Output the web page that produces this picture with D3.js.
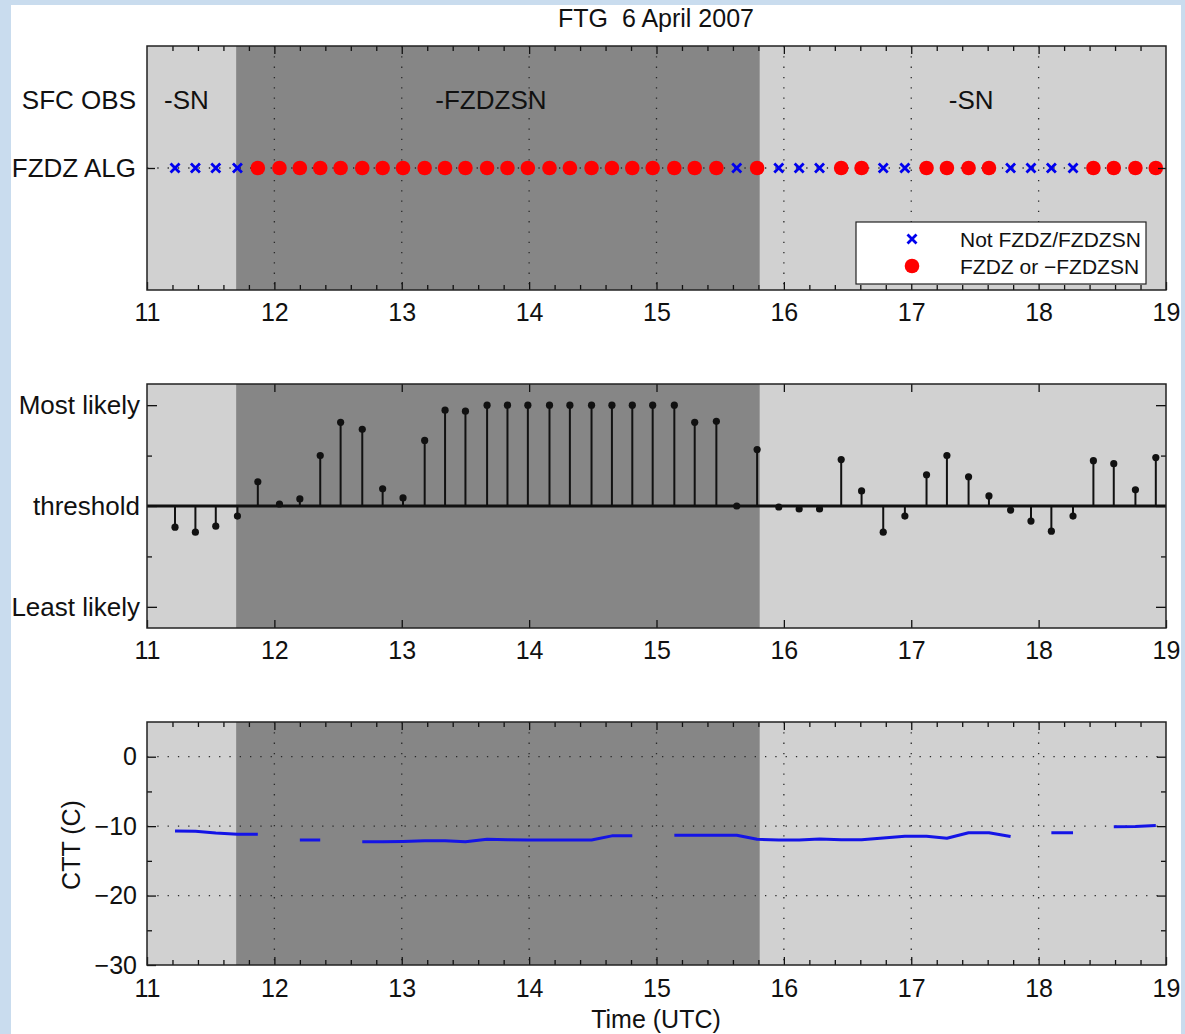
<!DOCTYPE html>
<html>
<head>
<meta charset="utf-8">
<script src="https://cdn.jsdelivr.net/npm/d3@7/dist/d3.min.js"></script>
<style>
  body { margin: 0; background: #c9dcee; }
  svg { display: block; }
  text { font-family: 'Liberation Sans', Arial, Helvetica, sans-serif; fill: #111; }
</style>
</head>
<body>
<svg id="chart" width="1185" height="1034"></svg>
<script>
// sample times (UTC hours)
const times = [11.22, 11.38, 11.54, 11.71, 11.87, 12.04, 12.20, 12.36, 12.52, 12.69, 12.85, 13.01,
  13.18, 13.34, 13.50, 13.67, 13.83, 13.99, 14.16, 14.32, 14.49, 14.65, 14.81, 14.97,
  15.14, 15.30, 15.47, 15.63, 15.79, 15.96, 16.12, 16.28, 16.45, 16.61, 16.78, 16.95,
  17.12, 17.28, 17.45, 17.61, 17.78, 17.94, 18.10, 18.27, 18.43, 18.59, 18.76, 18.92];

// algorithm result: 1 = FZDZ or -FZDZSN, 0 = Not FZDZ/FZDZSN
const algFlags = [0, 0, 0, 0, 1, 1, 1, 1, 1, 1, 1, 1, 1, 1, 1, 1, 1, 1, 1, 1, 1, 1, 1, 1,
  1, 1, 1, 0, 1, 0, 0, 0, 1, 1, 0, 0, 1, 1, 1, 1, 0, 0, 0, 0, 1, 1, 1, 1];

// likelihood relative to threshold (-1 least likely .. 1 most likely)
const likelihood = [-0.21, -0.26, -0.2, -0.1, 0.24, 0.02, 0.07, 0.5, 0.83, 0.76, 0.17, 0.08,
  0.65, 0.95, 0.94, 1, 1, 1, 1, 1, 1, 1, 1, 1,
  1, 0.83, 0.84, 0, 0.56, -0.01, -0.03, -0.03, 0.46, 0.15, -0.26, -0.1,
  0.31, 0.5, 0.29, 0.1, -0.04, -0.15, -0.25, -0.1, 0.45, 0.42, 0.16, 0.48];

// cloud top temperature (C), null = no data
const ctt = [-10.7, -10.75, -11.0, -11.15, -11.15, null, -12.0, -12.0, null, -12.25, -12.25, -12.2,
  -12.1, -12.1, -12.25, -11.9, -11.95, -12.0, -12.0, -12.0, -12.0, -11.4, -11.4, null,
  -11.3, -11.3, -11.3, -11.3, -11.9, -12.0, -12.0, -11.85, -11.95, -11.95, -11.7, -11.45,
  -11.45, -11.75, -10.95, -10.95, -11.5, null, -10.95, -10.95, null, -10.1, -10.05, -9.9];

// surface observation periods
const obsStart = [11, 11.70, 15.81];
const obsEnd = [11.70, 15.81, 19];
const obsLabels = ['-SN', '-FZDZSN', '-SN'];
const obsLabelX = [11.31, 13.70, 17.47];

const hourTicks = [11, 12, 13, 14, 15, 16, 17, 18, 19];
const cttTicks = [0, -10, -20, -30];
const legendLabels = ['Not FZDZ/FZDZSN', 'FZDZ or \u2212FZDZSN'];

const svg = d3.select('#chart');
svg.append('rect').attr('x', 11).attr('y', 5).attr('width', 1170).attr('height', 1029).attr('fill', '#fff');

const x = d3.scaleLinear().domain([11, 19]).range([147, 1166]);
const L = 147, R = 1166;
const light = '#d1d1d1', dark = '#868686';
const minorHours = d3.range(11.2, 19, 0.2).map(v => +v.toFixed(1)).filter(v => Math.abs(v - Math.round(v)) > 0.01);

function background(top, bottom) {
  const g = svg.append('g');
  g.append('rect').attr('x', L).attr('y', top).attr('width', R - L).attr('height', bottom - top).attr('fill', light);
  g.selectAll('rect.shade')
    .data(obsStart.map((s, i) => ({ s, e: obsEnd[i] })).filter((d, i) => i === 1))
    .enter().append('rect')
    .attr('class', 'shade')
    .attr('x', d => x(d.s)).attr('y', top)
    .attr('width', d => x(d.e) - x(d.s)).attr('height', bottom - top)
    .attr('fill', dark);
}

function tickAxis(gen, transform, values, size, fmt, pad) {
  const a = svg.append('g').attr('transform', transform)
    .call(gen.tickValues(values).tickSizeInner(-size).tickSizeOuter(0).tickPadding(pad || 0).tickFormat(fmt || (() => '')));
  a.select('.domain').remove();
  a.selectAll('line').attr('stroke', '#111').attr('stroke-width', 1.3);
  a.attr('font-size', 25).attr('font-family', "'Liberation Sans', Arial, sans-serif");
  a.selectAll('text').attr('fill', '#111');
  return a;
}

function xTicks(top, bottom, minor, pad) {
  const inner = hourTicks.filter(h => h > 11 && h < 19);
  tickAxis(d3.axisBottom(x), `translate(0,${bottom})`, hourTicks, 8, d => d, pad);
  tickAxis(d3.axisTop(x), `translate(0,${top})`, inner, 8);
  if (minor) {
    tickAxis(d3.axisBottom(x), `translate(0,${bottom})`, minorHours, 5);
    tickAxis(d3.axisTop(x), `translate(0,${top})`, minorHours, 5);
  }
}

function dotted(x1, y1, x2, y2) {
  svg.append('line').attr('x1', x1).attr('y1', y1).attr('x2', x2).attr('y2', y2)
    .attr('stroke', '#2a2a2a').attr('stroke-width', 1.3).attr('stroke-dasharray', '1.3,9');
}

function frame(top, bottom) {
  svg.append('rect').attr('x', L).attr('y', top).attr('width', R - L).attr('height', bottom - top)
    .attr('fill', 'none').attr('stroke', '#222').attr('stroke-width', 1.5);
}

// ---------- top panel ----------
const t1 = 46, b1 = 290;
const y1 = d3.scaleLinear().domain([0.2, 3.8]).range([b1, t1]);
background(t1, b1);
hourTicks.filter(h => h > 11 && h < 19).forEach(h => dotted(x(h), t1, x(h), b1));
dotted(L, y1(2), R, y1(2));

svg.selectAll('text.obs').data(obsLabels).enter().append('text')
  .attr('class', 'obs')
  .attr('x', (d, i) => x(obsLabelX[i])).attr('y', y1(3) + 9)
  .attr('text-anchor', 'middle').attr('font-size', 26).text(d => d);

const rows = times.map((t, i) => ({ t, f: algFlags[i] }));
svg.selectAll('circle.alg').data(rows.filter(d => d.f === 1)).enter().append('circle')
  .attr('class', 'alg').attr('cx', d => x(d.t)).attr('cy', y1(2)).attr('r', 7.3).attr('fill', '#ff0000');
const cross = 'M-4.5,-4.5L4.5,4.5M-4.5,4.5L4.5,-4.5';
svg.selectAll('path.alg').data(rows.filter(d => d.f === 0)).enter().append('path')
  .attr('class', 'alg').attr('d', cross)
  .attr('transform', d => `translate(${x(d.t)},${y1(2)})`)
  .attr('stroke', '#0000ee').attr('stroke-width', 2.8).attr('fill', 'none');

xTicks(t1, b1, true, 13);
tickAxis(d3.axisLeft(y1), `translate(${L},0)`, [2], 8);
tickAxis(d3.axisRight(y1), `translate(${R},0)`, [2], 8);
tickAxis(d3.axisLeft(y1), `translate(${L},0)`, [3, 2], 0, d => (d === 3 ? 'SFC OBS' : 'FZDZ ALG'), 11)
  .attr('font-size', 26);

// legend
const lg = svg.append('g').attr('transform', 'translate(856,222)');
lg.append('rect').attr('width', 290).attr('height', 62).attr('fill', '#fff').attr('stroke', '#222').attr('stroke-width', 1.2);
lg.append('path').attr('d', cross).attr('transform', 'translate(56,17)')
  .attr('stroke', '#0000ee').attr('stroke-width', 2.8).attr('fill', 'none');
lg.append('circle').attr('cx', 56).attr('cy', 44).attr('r', 7.3).attr('fill', '#ff0000');
lg.selectAll('text').data(legendLabels).enter().append('text')
  .attr('x', 104).attr('y', (d, i) => 25 + i * 27).attr('font-size', 21).text(d => d);

frame(t1, b1);

// ---------- middle panel ----------
const t2 = 384, b2 = 628;
const y2 = d3.scaleLinear().domain([-1.21, 1.21]).range([b2, t2]);
background(t2, b2);

const stems = times.map((t, i) => ({ t, v: likelihood[i] }));
svg.selectAll('line.stem').data(stems).enter().append('line')
  .attr('class', 'stem')
  .attr('x1', d => x(d.t)).attr('x2', d => x(d.t))
  .attr('y1', y2(0)).attr('y2', d => y2(d.v))
  .attr('stroke', '#111').attr('stroke-width', 2);
svg.append('line').attr('x1', L).attr('x2', R).attr('y1', y2(0)).attr('y2', y2(0))
  .attr('stroke', '#111').attr('stroke-width', 3);
svg.selectAll('circle.stem').data(stems).enter().append('circle')
  .attr('class', 'stem').attr('cx', d => x(d.t)).attr('cy', d => y2(d.v)).attr('r', 3.6).attr('fill', '#111');

xTicks(t2, b2, false, 13);
const likeNames = { '1': 'Most likely', '0': 'threshold', '-1': 'Least likely' };
tickAxis(d3.axisLeft(y2), `translate(${L},0)`, [1, 0, -1], 10, d => likeNames[d], 7).attr('font-size', 26);
tickAxis(d3.axisRight(y2), `translate(${R},0)`, [1, 0, -1], 10);
tickAxis(d3.axisLeft(y2), `translate(${L},0)`, [0.5, -0.5], 5);
tickAxis(d3.axisRight(y2), `translate(${R},0)`, [0.5, -0.5], 5);
frame(t2, b2);

// ---------- bottom panel ----------
const t3 = 722, b3 = 965;
const y3 = d3.scaleLinear().domain([-30, 5]).range([b3, t3]);
background(t3, b3);
hourTicks.filter(h => h > 11 && h < 19).forEach(h => dotted(x(h), t3, x(h), b3));
cttTicks.filter(v => v > -30).forEach(v => dotted(L, y3(v), R, y3(v)));

const line = d3.line().defined(d => d.v !== null).x(d => x(d.t)).y(d => y3(d.v));
svg.append('path').datum(times.map((t, i) => ({ t, v: ctt[i] })))
  .attr('d', line).attr('fill', 'none').attr('stroke', '#1414e6').attr('stroke-width', 3)
  .attr('stroke-linejoin', 'round');

xTicks(t3, b3, true, 14);
tickAxis(d3.axisLeft(y3), `translate(${L},0)`, cttTicks, 9, d => (d < 0 ? '\u2212' + Math.abs(d) : d), 10);
tickAxis(d3.axisRight(y3), `translate(${R},0)`, cttTicks.filter(v => v > -30), 9);
tickAxis(d3.axisLeft(y3), `translate(${L},0)`, [-5, -15, -25], 5);
tickAxis(d3.axisRight(y3), `translate(${R},0)`, [-5, -15, -25], 5);
frame(t3, b3);

// titles
svg.append('text').attr('x', 656).attr('y', 27).attr('text-anchor', 'middle')
  .attr('font-size', 25).style('white-space', 'pre').text('FTG  6 April 2007');
svg.append('text').attr('x', 656).attr('y', 1028).attr('text-anchor', 'middle')
  .attr('font-size', 25).text('Time (UTC)');
svg.append('text').attr('transform', 'translate(80,845) rotate(-90)').attr('text-anchor', 'middle')
  .attr('font-size', 25).text('CTT (C)');
</script>
</body>
</html>
